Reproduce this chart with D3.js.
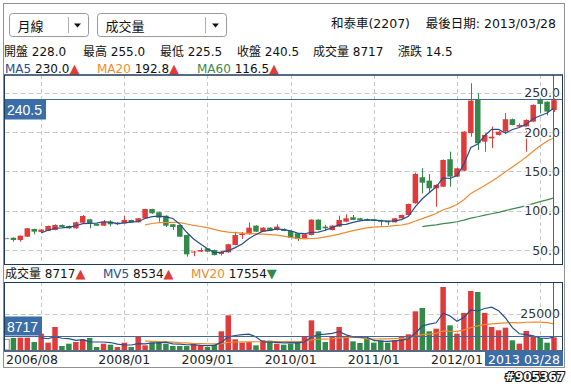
<!DOCTYPE html>
<html><head><meta charset="utf-8">
<script src="https://cdn.jsdelivr.net/npm/d3@7"></script>
<style>
html,body{margin:0;padding:0;background:#fff;}
svg{display:block;}
text{font-family:"DejaVu Sans","Noto Sans CJK TC",sans-serif;}
text.box{font-family:"Liberation Sans",Arial,sans-serif;}
</style></head><body>
<svg id="c" width="571" height="384"></svg>
<script>
// ---------------- DATA ----------------
const months = [
"2006/08","2006/09","2006/10","2006/11","2006/12",
"2007/01","2007/02","2007/03","2007/04","2007/05","2007/06","2007/07","2007/08","2007/09","2007/10","2007/11","2007/12",
"2008/01","2008/02","2008/03","2008/04","2008/05","2008/06","2008/07","2008/08","2008/09","2008/10","2008/11","2008/12",
"2009/01","2009/02","2009/03","2009/04","2009/05","2009/06","2009/07","2009/08","2009/09","2009/10","2009/11","2009/12",
"2010/01","2010/02","2010/03","2010/04","2010/05","2010/06","2010/07","2010/08","2010/09","2010/10","2010/11","2010/12",
"2011/01","2011/02","2011/03","2011/04","2011/05","2011/06","2011/07","2011/08","2011/09","2011/10","2011/11","2011/12",
"2012/01","2012/02","2012/03","2012/04","2012/05","2012/06","2012/07","2012/08","2012/09","2012/10","2012/11","2012/12",
"2013/01","2013/02","2013/03"];
const openP  = [65,65.6,62.7,66.9,76.7,73,74.2,75.4,81.8,80.5,77.6,84.7,89,83.1,80.9,86,82.7,84,88.2,85.2,
                90.3,102.1,98,93.6,82.7,81.8,69,47.5,48,52.1,50,45,47.1,56.4,69,70,81,73.3,78.4,75.4,
                76.7,74.2,71.2,64.9,69.1,88.6,79.7,75.4,79.7,86,91.6,90.3,89.4,89,88.2,87,85.2,90.3,94.5,109.4,
                142.5,138.2,128.5,130.5,165.4,143.3,150.9,198.5,240.8,187.8,192,196.3,200.5,216.3,206.8,206.8,213.2,241.7,238.6,228];
const highP  = [65.5,66,68.5,78,77,76.5,81,82.5,82.5,81,86,94.5,89.5,83.5,88.2,88,85.5,93.3,88.5,90.5,
                102.5,102.5,98.5,94,83,82,69.5,49,53,52.5,50.5,48.5,58,73.3,73,85.2,81.5,79,79,82.7,
                77.5,74.5,71.5,70.5,89,89,82,81.5,93.6,95.4,94.5,90.8,90,89.5,88.5,87.5,90.8,95,109,148.3,
                154,146.7,133.5,165,175,154.5,201,262,249.3,198.4,207,201,224,217,211,216,235,242.5,239,255];
const lowP   = [64,60.6,60.6,66.5,70,72,74,75,79,77,77,84,77.6,80.5,80.5,80,82,83.5,85,85,
                90,96,86,79.3,75.4,66.5,41.5,42,47.5,47.5,43,43,46.5,56,64,69.5,73,73,74,75,
                74,65,61.4,64.5,68.5,75,74,75,79.5,85.5,88,87.5,87,86.5,80.9,81.8,85,90,94,109,
                122,122.5,105,130,130.5,142.5,150.5,194,177,175,179.5,195.5,198,208.5,206,175,212.5,224,221,225.5];
const closeP = [65,62.7,68.2,77.6,73.3,76,80.5,81.8,79.3,77.6,85.2,93.3,84,80.9,86,82.7,84.7,88.2,85.2,90.3,
                102.1,96.7,91.1,80.9,79.3,66.9,44.5,48,50,47.9,43.6,47.5,57.3,69,71,78.4,73.3,78.4,74.2,79.7,
                74.2,65.6,64,70,88.6,75.4,77.6,81,88.2,90.3,88.2,87.8,87.3,86.9,86,85.2,90.3,94.5,108.5,146.7,
                135.6,128.5,132.7,164.5,143.3,153.9,200.5,240,185.7,196.3,194,200.5,216.3,209,209,215.4,234.5,235.7,226,240.5];
const volume = [7350,8260,8500,8500,5500,11250,5050,15840,2750,4360,5500,7350,8260,2070,4360,3670,2070,5050,2070,8950,
                3210,5050,5500,4360,2750,2750,2750,4820,2750,2070,3670,12860,23880,7350,5050,5500,3210,6660,6430,4360,
                3670,4360,5970,9640,20430,12860,5500,8950,15840,8950,5970,4820,8260,5050,6660,5050,6660,9640,10790,26630,
                28930,12860,14690,43390,16990,11250,25490,40640,39950,25490,15840,13550,15380,6660,4360,13090,8950,8260,5050,8717];
const priceTicks  = [50,100,150,200,250];
const volumeTicks = [25000];
const gridMonths  = ["2007/01","2008/01","2009/01","2010/01","2011/01","2012/01","2013/01"];
const axisLabels  = ["2006/08","2008/01","2009/01","2010/01","2011/01","2012/01"];
const lastLabel   = "2013 03/28";
const periodOptions = ["月線","成交量"];
const stockTitle  = "和泰車(2207)";
const lastDate    = "最後日期: 2013/03/28";
const quoteLabels = ["開盤","最高","最低","收盤","成交量","漲跌"];
const quoteValues = ["228.0","255.0","225.5","240.5","8717","14.5"];
const maLabels  = ["MA5","MA20","MA60"];
const maValues  = ["230.0","192.8","116.5"];
const maDirs    = ["up","up","up"];
const mvLabels  = ["成交量","MV5","MV20"];
const mvValues  = ["8717","8534","17554"];
const mvDirs    = ["up","up","down"];
const lastClose = 240.5, lastVolume = 8717;
const codeText  = "#905367";

// ---------------- STYLE ----------------
const RED = "#e03b3b", GREEN = "#33894a", GRAY = "#8a8a8a";
const C_MA5 = "#284d8c", C_MA20 = "#ef8a2c", C_MA60 = "#3c8b4e";
const FRAME = "#1e3a58", CROSS = "#3f6896", BOX = "#3b6ea8", GRID = "#c9c9c9";

const svg = d3.select("#c");
const x  = d3.scalePoint().domain(months).range([6.5, 554]);
const y  = d3.scaleLinear().domain([50, 250]).range([250, 92.7]);
const yv = d3.scaleLinear().domain([0, 25000]).range([350, 313.7]);

const P = {l:4.5, r:562.5, t:75, b:264};
const V = {l:4.5, r:562.5, t:282, b:350.5};

function movingAvg(arr, n){ return arr.map((v,i)=> i>=n ? d3.mean(arr.slice(i-n+1,i+1)) : null); }
const ma5 = movingAvg(closeP,5), ma20 = movingAvg(closeP,20), ma60 = movingAvg(closeP,60);
const mv5 = movingAvg(volume,5), mv20 = movingAvg(volume,20);

// outer dotted border
svg.append("rect").attr("x",3.5).attr("y",3.5).attr("width",561).attr("height",364)
  .attr("fill","none").attr("stroke","#222").attr("stroke-dasharray","1,1");

// dropdowns
const dd = [{x:9.5,w:79,div:68.5,ar:77.5},{x:97.5,w:129,div:205.5,ar:215.5}];
dd.forEach((d,k)=>{
  svg.append("rect").attr("x",d.x).attr("y",13.5).attr("width",d.w).attr("height",23).attr("rx",3)
    .attr("fill","#fff").attr("stroke","#9a9a9a");
  svg.append("line").attr("x1",d.div).attr("x2",d.div).attr("y1",17).attr("y2",33).attr("stroke","#b0b0b0");
  svg.append("path").attr("d",`M${d.ar-3.5},23.5 L${d.ar+3.5},23.5 L${d.ar},27.5 Z`).attr("fill","#111");
  svg.append("text").attr("x",d.x+8).attr("y",30.5).attr("font-size",13).attr("fill","#111").text(periodOptions[k]);
});

// title
svg.append("text").attr("x",410).attr("y",27.5).attr("text-anchor","end").attr("font-size",12.5).attr("fill","#111").text(stockTitle);
svg.append("text").attr("x",556).attr("y",27.5).attr("text-anchor","end").attr("font-size",12.5).attr("fill","#111").text(lastDate);

// quote line
const qx = [4,83,160,237,313,398];
quoteLabels.forEach((l,i)=>{
  svg.append("text").attr("x",qx[i]).attr("y",56).attr("font-size",12).attr("fill","#111")
    .text(l+" "+quoteValues[i]);
});

// MA legend
function legendRow(labels, values, dirs, colors, xs, yy){
  labels.forEach((l,i)=>{
    const t = svg.append("text").attr("x",xs[i]).attr("y",yy).attr("font-size",12);
    t.append("tspan").attr("fill",colors[i]).text(l);
    t.append("tspan").attr("fill","#111").text(" "+values[i]);
    t.append("tspan").attr("fill",dirs[i]==="up"?RED:GREEN).attr("font-size",13).text(dirs[i]==="up"?"▲":"▼");
  });
}
legendRow(maLabels, maValues, maDirs, [C_MA5,C_MA20,C_MA60], [5,97,197], 72.5);
legendRow(mvLabels, mvValues, mvDirs, ["#111",C_MA5,C_MA20], [5,103,191], 278);

// clip paths
const defs = svg.append("defs");
defs.append("clipPath").attr("id","cp").append("rect").attr("x",P.l).attr("y",P.t).attr("width",P.r-P.l).attr("height",P.b-P.t);
defs.append("clipPath").attr("id","cv").append("rect").attr("x",V.l).attr("y",V.t).attr("width",V.r-V.l).attr("height",V.b-V.t);

// ---------- price panel ----------
const gp = svg.append("g").attr("clip-path","url(#cp)");
gridMonths.forEach(m=>{
  const xx = Math.round(x(m))+0.5;
  gp.append("line").attr("x1",xx).attr("x2",xx).attr("y1",P.t).attr("y2",P.b)
    .attr("stroke",GRID).attr("stroke-dasharray","4,3");
});
priceTicks.forEach(t=>{
  const yy = Math.round(y(t))+0.5;
  gp.append("line").attr("x1",P.l).attr("x2",P.r).attr("y1",yy).attr("y2",yy)
    .attr("stroke",GRID).attr("stroke-dasharray","5,3");
});
const colorOf = i => closeP[i]>openP[i]?RED:(closeP[i]<openP[i]?GREEN:GRAY);
const bw = 5.5;
const candles = gp.selectAll("g.c").data(months).join("g");
candles.append("line")
  .attr("x1",(d)=>Math.round(x(d))+0.5).attr("x2",(d)=>Math.round(x(d))+0.5)
  .attr("y1",(d,i)=>y(highP[i])).attr("y2",(d,i)=>y(lowP[i]))
  .attr("stroke",(d,i)=>colorOf(i));
candles.append("rect")
  .attr("x",d=>x(d)-bw/2).attr("width",bw)
  .attr("y",(d,i)=>y(Math.max(openP[i],closeP[i])))
  .attr("height",(d,i)=>Math.max(1,Math.abs(y(openP[i])-y(closeP[i]))))
  .attr("fill",(d,i)=>colorOf(i));
const lineP = d3.line().defined(d=>d[1]!=null).x(d=>x(d[0])).y(d=>y(d[1]));
[[ma60,C_MA60],[ma20,C_MA20],[ma5,C_MA5]].forEach(([arr,c])=>{
  gp.append("path").attr("d",lineP(months.map((m,i)=>[m,arr[i]]))).attr("fill","none")
    .attr("stroke",c).attr("stroke-width",1.2);
});
// y labels
priceTicks.forEach(t=>{
  svg.append("text").attr("x",560).attr("y",y(t)+4.5).attr("text-anchor","end").attr("font-size",12.5)
    .attr("fill","#333").attr("stroke","#fff").attr("stroke-width",3).attr("paint-order","stroke")
    .text(t.toFixed(1));
});
// crosshair
const cx = Math.round(x(months[months.length-1]))-0.5;
const cyP = Math.round(y(lastClose))-0.5;
svg.append("line").attr("x1",P.l).attr("x2",P.r).attr("y1",cyP).attr("y2",cyP).attr("stroke",CROSS);
svg.append("line").attr("x1",cx).attr("x2",cx).attr("y1",P.t).attr("y2",P.b).attr("stroke",CROSS);
svg.append("rect").attr("x",5).attr("y",cyP).attr("width",41).attr("height",20).attr("fill",BOX);
svg.append("text").attr("class","box").attr("x",7).attr("y",cyP+15)
  .attr("font-size",14).attr("fill","#fff").text(lastClose.toFixed(1));
// frame
svg.append("line").attr("x1",4).attr("x2",563).attr("y1",75).attr("y2",75).attr("stroke",FRAME).attr("stroke-width",1.5);
svg.append("line").attr("x1",4).attr("x2",563).attr("y1",P.b+0.5).attr("y2",P.b+0.5).attr("stroke",FRAME);
svg.append("line").attr("x1",4.5).attr("x2",4.5).attr("y1",75).attr("y2",P.b).attr("stroke",FRAME);
svg.append("line").attr("x1",562.5).attr("x2",562.5).attr("y1",75).attr("y2",P.b).attr("stroke",FRAME);

// ---------- volume panel ----------
const gv = svg.append("g").attr("clip-path","url(#cv)");
gridMonths.forEach(m=>{
  const xx = Math.round(x(m))+0.5;
  gv.append("line").attr("x1",xx).attr("x2",xx).attr("y1",V.t).attr("y2",V.b)
    .attr("stroke",GRID).attr("stroke-dasharray","4,3");
});
volumeTicks.forEach(t=>{
  const yy = Math.round(yv(t))+0.5;
  gv.append("line").attr("x1",V.l).attr("x2",V.r).attr("y1",yy).attr("y2",yy)
    .attr("stroke",GRID).attr("stroke-dasharray","5,3");
});
gv.selectAll("rect.v").data(months).join("rect")
  .attr("x",d=>x(d)-bw/2).attr("width",bw)
  .attr("y",(d,i)=>yv(volume[i])).attr("height",(d,i)=>yv(0)-yv(volume[i]))
  .attr("fill",(d,i)=>colorOf(i)===GRAY?"#fff":colorOf(i))
  .attr("stroke",(d,i)=>colorOf(i)===GRAY?GRAY:"none");
const lineV = d3.line().defined(d=>d[1]!=null).x(d=>x(d[0])).y(d=>yv(d[1]));
[[mv20,C_MA20],[mv5,C_MA5]].forEach(([arr,c])=>{
  gv.append("path").attr("d",lineV(months.map((m,i)=>[m,arr[i]]))).attr("fill","none")
    .attr("stroke",c).attr("stroke-width",1.2);
});
volumeTicks.forEach(t=>{
  svg.append("text").attr("x",560).attr("y",yv(t)+4.5).attr("text-anchor","end").attr("font-size",12.5)
    .attr("fill","#333").attr("stroke","#fff").attr("stroke-width",3).attr("paint-order","stroke").text(t);
});
const cyV = Math.round(yv(lastVolume))-0.5;
svg.append("line").attr("x1",V.l).attr("x2",V.r).attr("y1",cyV).attr("y2",cyV).attr("stroke",CROSS);
svg.append("line").attr("x1",cx).attr("x2",cx).attr("y1",V.t).attr("y2",V.b).attr("stroke",CROSS);
svg.append("rect").attr("x",5).attr("y",cyV-20).attr("width",37).attr("height",19).attr("fill",BOX);
svg.append("text").attr("class","box").attr("x",7).attr("y",cyV-5)
  .attr("font-size",14).attr("fill","#fff").text(lastVolume);
svg.append("line").attr("x1",4).attr("x2",563).attr("y1",V.t+0.5).attr("y2",V.t+0.5).attr("stroke",FRAME);
svg.append("line").attr("x1",4).attr("x2",563).attr("y1",V.b+0.5).attr("y2",V.b+0.5).attr("stroke",FRAME).attr("stroke-width",1.5);
svg.append("line").attr("x1",4.5).attr("x2",4.5).attr("y1",V.t).attr("y2",V.b).attr("stroke",FRAME);
svg.append("line").attr("x1",562.5).attr("x2",562.5).attr("y1",V.t).attr("y2",V.b).attr("stroke",FRAME);

// x axis labels
axisLabels.forEach((m,i)=>{
  svg.append("text").attr("x", i===0 ? 6 : x(m)).attr("y",364)
    .attr("text-anchor", i===0 ? "start" : "middle").attr("font-size",12.5).attr("fill","#222").text(m);
});
svg.append("rect").attr("x",485).attr("y",351).attr("width",78).attr("height",15).attr("fill",BOX);
svg.append("text").attr("x",524).attr("y",364).attr("text-anchor","middle").attr("font-size",12.5)
  .attr("fill","#fff").text(lastLabel);

// code watermark
svg.append("text").attr("x",565).attr("y",380.5).attr("text-anchor","end").attr("font-size",12)
  .attr("font-weight","bold").attr("fill","#fff").attr("stroke","#111").attr("stroke-width",2.2)
  .attr("paint-order","stroke").text(codeText);
</script>
</body></html>
